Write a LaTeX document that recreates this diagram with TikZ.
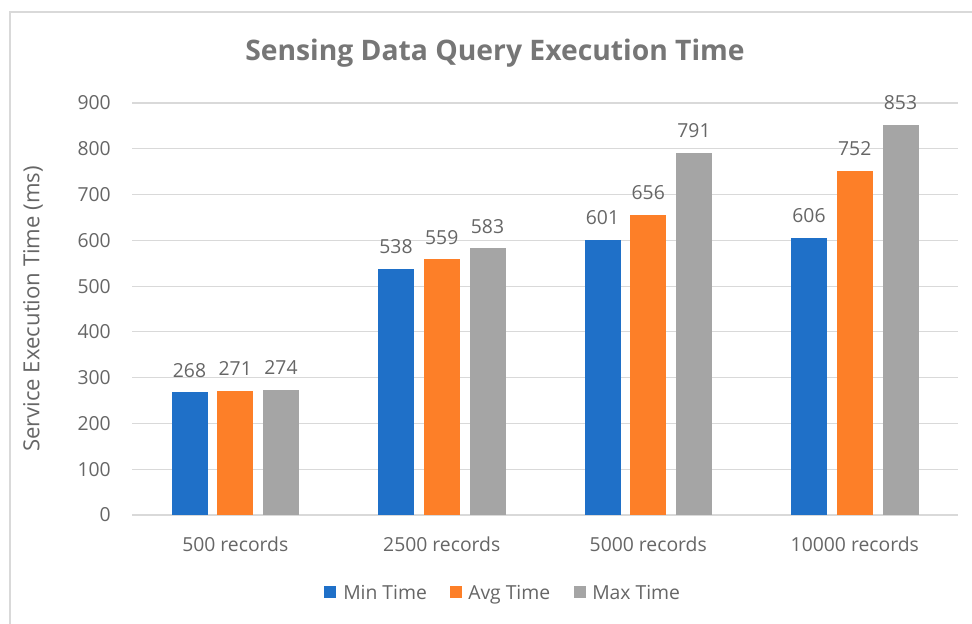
\documentclass[tikz,border=0pt]{standalone}
\usepackage{fontspec}
\setmainfont{Open Sans}
\definecolor{minc}{HTML}{1F70C8}
\definecolor{avgc}{HTML}{FD7F28}
\definecolor{maxc}{HTML}{A5A5A5}
\definecolor{gridc}{HTML}{D9D9D9}
\definecolor{txtc}{HTML}{666666}
\definecolor{titlec}{HTML}{767676}
\begin{document}
\begin{tikzpicture}[x=0.75pt,y=-0.75pt,
  gridline/.style={draw=gridc,line width=0.9pt},
  tick/.style={text=txtc,font=\fontsize{14.5}{16}\selectfont,inner sep=0pt},
  vallabel/.style={text=txtc,font=\fontsize{14.5}{16}\selectfont,inner sep=0pt},
  legsq/.style={minimum size=9pt,inner sep=0pt}]
\useasboundingbox (0,0) rectangle (972,624);
\fill[white] (0,0) rectangle (972,624);
% chart frame, running off the right and bottom edges
\begin{scope}
  \clip (0,0) rectangle (972,624);
  \draw[gridc,line width=1.2pt] (10,12) rectangle (1000,700);
\end{scope}
% title
\node[text=titlec,font=\fontsize{21.2}{24}\selectfont\bfseries] (title) at (495,53) {Sensing Data Query Execution Time};
% value gridlines and tick labels
\foreach \v in {0,100,...,900}{
  \pgfmathsetmacro{\yy}{515-\v*0.457778}
  \draw[gridline] (132,\yy) -- (958,\yy);
  \node[tick,anchor=east] (tick\v) at (111,\yy) {\v};
}
% axis title
\node[tick,font=\fontsize{16.6}{18}\selectfont,rotate=90] (ytitle) at (33,309) {Service Execution Time (ms)};
% bars, value labels and category labels
\foreach \i/\a/\b/\c/\lab in {0/268/271/274/500 records,1/538/559/583/2500 records,2/601/656/791/5000 records,3/606/752/853/10000 records}{
  \pgfmathsetmacro{\cx}{235.25+206.5*\i}
  \foreach \v/\o/\col in {\a/-45.75/minc,\b/0/avgc,\c/45.75/maxc}{
    \pgfmathsetmacro{\tp}{515-\v*0.457778}
    \fill[\col] ({\cx+\o-18},515) rectangle ({\cx+\o+18},\tp);
    \node[vallabel] at ({\cx+\o},{\tp-22}) {\v};
  }
  \node[tick] (cat\i) at (\cx,544) {\lab};
}
% legend
\node[legsq,fill=minc] (lmin) at (330,592) {};
\node[tick,anchor=base west] (lminl) at (343,599) {Min Time};
\node[legsq,fill=avgc] (lavg) at (455.5,592) {};
\node[tick,anchor=base west] (lavgl) at (468,599) {Avg Time};
\node[legsq,fill=maxc] (lmax) at (579.5,592) {};
\node[tick,anchor=base west] (lmaxl) at (592,599) {Max Time};
\end{tikzpicture}
\end{document}
